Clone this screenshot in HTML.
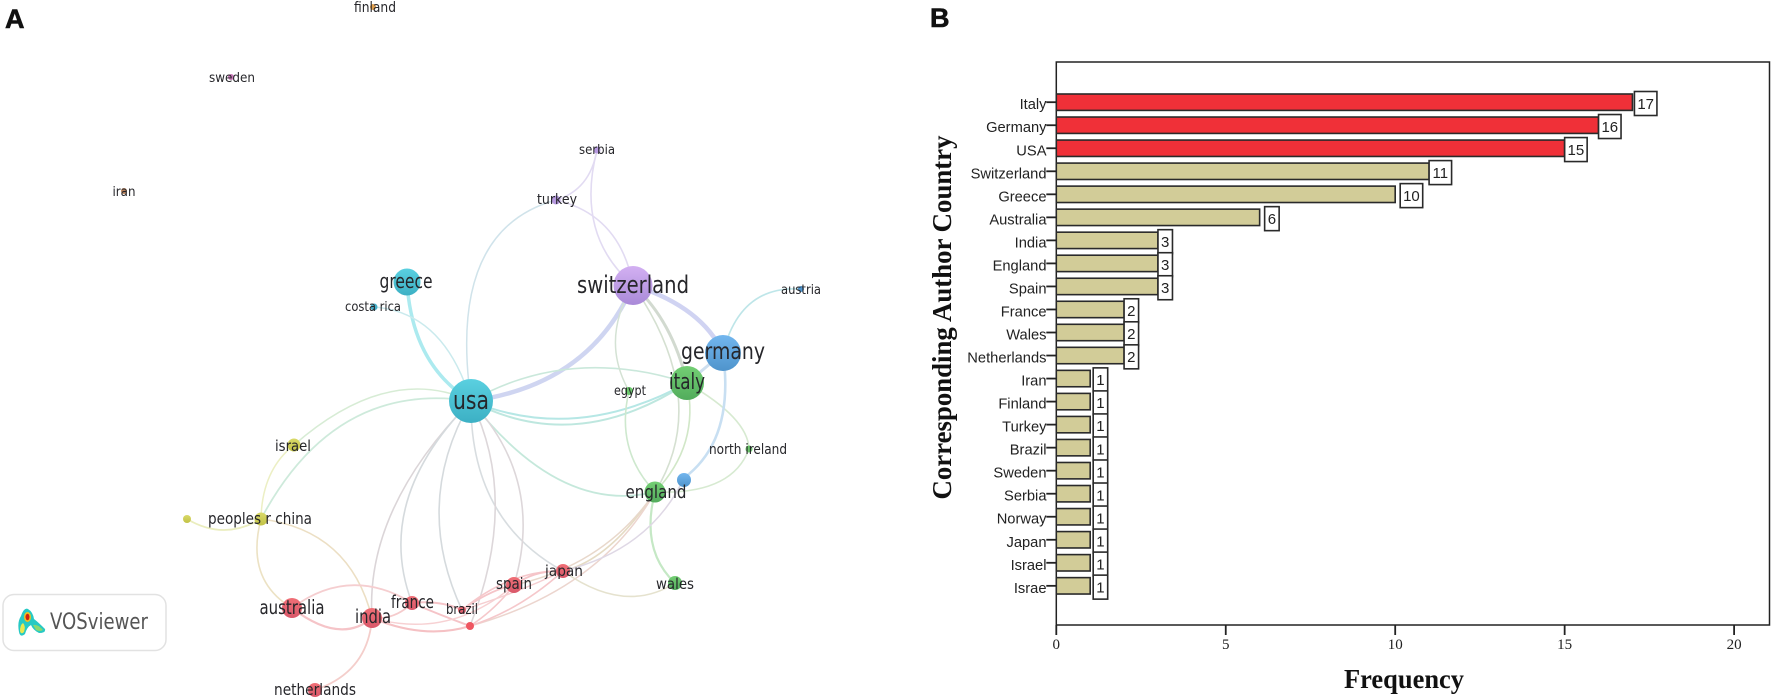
<!DOCTYPE html>
<html lang="en">
<head>
<meta charset="utf-8">
<title>Country collaboration network and corresponding author countries</title>
<style>
html,body{margin:0;padding:0;background:#fff;}
body{width:1772px;height:698px;overflow:hidden;}
svg{display:block;position:absolute;left:0;top:0;}
.net text{font-family:"DejaVu Sans","Liberation Sans",sans-serif;fill:#26262a;text-anchor:middle;}
.edges{opacity:.82;}
.edges path{fill:none;stroke-linecap:round;}
</style>
</head>
<body>
<svg class="net" width="1772" height="698" viewBox="0 0 1772 698">
<defs>
<linearGradient id="gc" x1="0" y1="0" x2="0" y2="1"><stop offset="0" stop-color="#5ad0e0"/><stop offset="1" stop-color="#3cb0c4"/></linearGradient>
<linearGradient id="gp" x1="0" y1="0" x2="0" y2="1"><stop offset="0" stop-color="#d3b0f2"/><stop offset="1" stop-color="#a98ad8"/></linearGradient>
<linearGradient id="gb" x1="0" y1="0" x2="0" y2="1"><stop offset="0" stop-color="#73b6ee"/><stop offset="1" stop-color="#4f94cc"/></linearGradient>
<linearGradient id="gg" x1="0" y1="0" x2="0" y2="1"><stop offset="0" stop-color="#74cf74"/><stop offset="1" stop-color="#52ac5c"/></linearGradient>
<linearGradient id="gr" x1="0" y1="0" x2="0" y2="1"><stop offset="0" stop-color="#f06f76"/><stop offset="1" stop-color="#d9586a"/></linearGradient>
<linearGradient id="gy" x1="0" y1="0" x2="0" y2="1"><stop offset="0" stop-color="#d9d968"/><stop offset="1" stop-color="#c2c246"/></linearGradient>
</defs>

<g class="edges">
<path d="M471 401Q412 365 407 282" stroke="#9be6ec" stroke-width="3.5"/>
<path d="M471 401Q444 312 374 307" stroke="#bfe6ea" stroke-width="1.5"/>
<path d="M471 401Q447 230 556 200" stroke="#c6dde6" stroke-width="1.5"/>
<path d="M471 401Q590 385 633 285" stroke="#c5cdee" stroke-width="4.5"/>
<path d="M471 401Q570 345 687 383" stroke="#bfe3d4" stroke-width="1.6"/>
<path d="M471 401Q575 444 687 383" stroke="#a7e2e0" stroke-width="2"/>
<path d="M471 401Q575 456 687 383" stroke="#b0e2d8" stroke-width="2"/>
<path d="M471 401Q388 363 294 445" stroke="#cfe8cc" stroke-width="1.5"/>
<path d="M471 401Q335 380 261 519" stroke="#c4e6d4" stroke-width="1.8"/>
<path d="M471 401Q560 515 655 492" stroke="#b9e4d4" stroke-width="1.8"/>
<path d="M471 401Q365 509 372 618" stroke="#d4cdd0" stroke-width="1.6"/>
<path d="M471 401Q373 500 412 603" stroke="#ccd2d6" stroke-width="1.6"/>
<path d="M471 401Q412 503 462 610" stroke="#ccd2d6" stroke-width="1.6"/>
<path d="M471 401Q470 520 563 571" stroke="#d0d6da" stroke-width="1.6"/>
<path d="M471 401Q545 480 514 585" stroke="#d6cfd2" stroke-width="1.6"/>
<path d="M471 401Q520 500 470 626" stroke="#d6cfd2" stroke-width="1.6"/>
<path d="M633 285Q702 307 723 353" stroke="#c6caf0" stroke-width="4.5"/>
<path d="M633 285Q672 320 687 383" stroke="#c9d3c6" stroke-width="3"/>
<path d="M633 285Q712 400 655 492" stroke="#ccdac8" stroke-width="1.6"/>
<path d="M633 285Q600 340 629 391" stroke="#cbdccb" stroke-width="1.5"/>
<path d="M633 285Q575 235 597 150" stroke="#dcd4f0" stroke-width="1.6"/>
<path d="M633 285Q620 215 556 200" stroke="#dcd4f0" stroke-width="1.6"/>
<path d="M556 200Q590 190 597 150" stroke="#dcd4f0" stroke-width="1.6"/>
<path d="M629 391Q615 450 655 492" stroke="#c4e4c4" stroke-width="1.6"/>
<path d="M687 383Q700 445 655 492" stroke="#c8e2bc" stroke-width="1.6"/>
<path d="M687 383L723 353" stroke="#c4d8ec" stroke-width="3"/>
<path d="M687 383Q748 418 749 449" stroke="#cfe6c8" stroke-width="1.6"/>
<path d="M749 449Q732 495 655 492" stroke="#cfe6c8" stroke-width="1.6"/>
<path d="M723 353Q735 440 684 478" stroke="#bcd9f0" stroke-width="2.6"/>
<path d="M723 353Q740 285 801 289" stroke="#b0e0e4" stroke-width="1.6"/>
<path d="M655 492Q640 550 675 583" stroke="#b9e4b9" stroke-width="2.2"/>
<path d="M655 492Q610 560 563 571" stroke="#e0d4b8" stroke-width="1.6"/>
<path d="M655 492Q605 565 514 585" stroke="#e4d0c0" stroke-width="1.5"/>
<path d="M655 492Q600 590 470 626" stroke="#e8ccc4" stroke-width="1.5"/>
<path d="M684 478Q650 550 563 571" stroke="#d8d0e0" stroke-width="1.5"/>
<path d="M675 583Q625 615 563 571" stroke="#e0dcc4" stroke-width="1.6"/>
<path d="M294 445Q262 470 261 519" stroke="#e8ecb8" stroke-width="1.5"/>
<path d="M261 519Q224 541 187 519" stroke="#e6eab0" stroke-width="1.8"/>
<path d="M261 519Q245 580 292 608" stroke="#e8dcb8" stroke-width="1.6"/>
<path d="M261 519Q350 530 372 618" stroke="#e8d8b8" stroke-width="1.6"/>
<path d="M292 608Q340 645 372 618" stroke="#f4b8bc" stroke-width="2.2"/>
<path d="M292 608Q350 565 412 603" stroke="#f4c4c6" stroke-width="1.8"/>
<path d="M372 618Q395 620 412 603" stroke="#f4c0c2" stroke-width="1.8"/>
<path d="M412 603Q440 600 462 610" stroke="#f4b8bc" stroke-width="2"/>
<path d="M412 603Q440 615 470 626" stroke="#f4b8bc" stroke-width="2"/>
<path d="M372 618Q425 640 470 626" stroke="#f4b4b8" stroke-width="2.2"/>
<path d="M372 618Q368 672 315 690" stroke="#f2c4c0" stroke-width="1.8"/>
<path d="M462 610Q490 590 514 585" stroke="#f4b8bc" stroke-width="1.8"/>
<path d="M470 626Q495 610 514 585" stroke="#f4bcc0" stroke-width="1.6"/>
<path d="M462 610Q510 570 563 571" stroke="#f4bcc0" stroke-width="1.6"/>
<path d="M470 626Q520 610 563 571" stroke="#f4bcc0" stroke-width="1.6"/>
<path d="M514 585Q535 570 563 571" stroke="#f4b8bc" stroke-width="1.8"/>
<path d="M462 610Q520 592 563 571" stroke="#f4c4c6" stroke-width="1.5"/>
<path d="M372 618Q450 640 514 585" stroke="#f6c8ca" stroke-width="1.5"/>
</g>

<g>
<circle cx="471" cy="401" r="22" fill="url(#gc)"/>
<circle cx="407" cy="282" r="13.5" fill="url(#gc)"/>
<circle cx="374" cy="307" r="3.5" fill="#45aec8"/>
<circle cx="633" cy="285.5" r="19.5" fill="url(#gp)"/>
<circle cx="597" cy="150" r="3.5" fill="#b79ae0"/>
<circle cx="556" cy="200" r="4.5" fill="#b79ae0"/>
<circle cx="723" cy="353" r="18" fill="url(#gb)"/>
<circle cx="801" cy="289" r="3" fill="#4f94cc"/>
<circle cx="684" cy="480" r="7" fill="url(#gb)"/>
<circle cx="687" cy="383" r="17" fill="url(#gg)"/>
<circle cx="655" cy="492" r="10.5" fill="url(#gg)"/>
<circle cx="675" cy="583" r="7" fill="url(#gg)"/>
<circle cx="749" cy="449" r="3.5" fill="#6cc96c"/>
<circle cx="629" cy="391" r="4" fill="#6cc96c"/>
<circle cx="292" cy="608" r="10" fill="url(#gr)"/>
<circle cx="372" cy="618" r="10" fill="url(#gr)"/>
<circle cx="412" cy="603" r="7" fill="url(#gr)"/>
<circle cx="462" cy="610" r="4" fill="url(#gr)"/>
<circle cx="470" cy="626" r="4" fill="#ef5560"/>
<circle cx="514" cy="585" r="8" fill="url(#gr)"/>
<circle cx="563" cy="571" r="7" fill="url(#gr)"/>
<circle cx="315" cy="690" r="7" fill="url(#gr)"/>
<circle cx="294" cy="445" r="6.5" fill="url(#gy)"/>
<circle cx="261" cy="519" r="6.5" fill="url(#gy)"/>
<circle cx="187" cy="519" r="4" fill="url(#gy)"/>
<circle cx="373" cy="7" r="3" fill="#e0a050"/>
<circle cx="231" cy="77" r="3" fill="#c878b8"/>
<circle cx="124" cy="191" r="3" fill="#b8805a"/>
</g>

<g>
<text x="471" y="409" font-size="26" textLength="36" lengthAdjust="spacingAndGlyphs">usa</text>
<text x="633" y="293" font-size="24" textLength="112" lengthAdjust="spacingAndGlyphs">switzerland</text>
<text x="723" y="359" font-size="23" textLength="84" lengthAdjust="spacingAndGlyphs">germany</text>
<text x="687" y="389" font-size="22" textLength="36" lengthAdjust="spacingAndGlyphs">italy</text>
<text x="406" y="288" font-size="20" textLength="53" lengthAdjust="spacingAndGlyphs">greece</text>
<text x="373" y="311" font-size="13.5" textLength="56" lengthAdjust="spacingAndGlyphs">costa rica</text>
<text x="630" y="395" font-size="13" textLength="32" lengthAdjust="spacingAndGlyphs">egypt</text>
<text x="748" y="454" font-size="14" textLength="78" lengthAdjust="spacingAndGlyphs">north ireland</text>
<text x="801" y="294" font-size="13.5" textLength="40" lengthAdjust="spacingAndGlyphs">austria</text>
<text x="656" y="498" font-size="17.5" textLength="61" lengthAdjust="spacingAndGlyphs">england</text>
<text x="675" y="589" font-size="15" textLength="38" lengthAdjust="spacingAndGlyphs">wales</text>
<text x="564" y="576" font-size="15.5" textLength="38" lengthAdjust="spacingAndGlyphs">japan</text>
<text x="514" y="589" font-size="16" textLength="36" lengthAdjust="spacingAndGlyphs">spain</text>
<text x="462" y="614" font-size="14" textLength="32" lengthAdjust="spacingAndGlyphs">brazil</text>
<text x="412.5" y="608" font-size="17.5" textLength="43" lengthAdjust="spacingAndGlyphs">france</text>
<text x="373" y="623" font-size="18.5" textLength="36" lengthAdjust="spacingAndGlyphs">india</text>
<text x="292" y="614" font-size="19.5" textLength="65" lengthAdjust="spacingAndGlyphs">australia</text>
<text x="315" y="695" font-size="16" textLength="82" lengthAdjust="spacingAndGlyphs">netherlands</text>
<text x="260" y="524" font-size="16" textLength="104" lengthAdjust="spacingAndGlyphs">peoples r china</text>
<text x="293" y="451" font-size="15" textLength="36" lengthAdjust="spacingAndGlyphs">israel</text>
<text x="597" y="154" font-size="13.5" textLength="36" lengthAdjust="spacingAndGlyphs">serbia</text>
<text x="557" y="204" font-size="14" textLength="40" lengthAdjust="spacingAndGlyphs">turkey</text>
<text x="375" y="12" font-size="14" textLength="42" lengthAdjust="spacingAndGlyphs">finland</text>
<text x="232" y="82" font-size="13.5" textLength="46" lengthAdjust="spacingAndGlyphs">sweden</text>
<text x="124" y="196" font-size="13" textLength="23" lengthAdjust="spacingAndGlyphs">iran</text>
</g>

<g>
<rect x="3" y="594.5" width="163" height="56" rx="11" fill="#fff" stroke="#e2e2e2" stroke-width="1.5"/>
<g>
<path d="M19 632Q17 622 21 616Q24 607 28 609Q33 612 34 619Q38 622 45 629Q46 633 39 633Q33 630 31 625Q27 627 25 634Q20 638 19 632Z" fill="#27c9c4"/>
<path d="M20 631Q20 625 23 623Q26 626 24 632Q21 635 20 631Z" fill="#e8e850"/>
<path d="M33 625Q38 624 43 630Q40 632 36 630Z" fill="#8ad870"/>
<ellipse cx="27.5" cy="617" rx="3.5" ry="5" fill="#f0c020"/>
<ellipse cx="27.5" cy="617" rx="2" ry="3.2" fill="#d02010"/>
</g>
<text x="99" y="629" font-size="22" textLength="98" lengthAdjust="spacingAndGlyphs" style="fill:#555">VOSviewer</text>
</g>
</svg>

<svg id="bar-chart" width="1772" height="698" viewBox="0 0 1772 698" style="pointer-events:none">
<text x="5" y="28" font-family="Liberation Sans, sans-serif" font-weight="bold" font-size="27" fill="#111" stroke="#111" stroke-width=".6">A</text>
<text x="930" y="27" font-family="Liberation Sans, sans-serif" font-weight="bold" font-size="27" fill="#111" stroke="#111" stroke-width=".6">B</text>
<text transform="translate(951 317.5) rotate(-90)" text-anchor="middle" font-family="Liberation Serif, serif" font-weight="bold" font-size="27" textLength="364" lengthAdjust="spacingAndGlyphs" fill="#111">Corresponding Author Country</text>
<text x="1404" y="688" text-anchor="middle" font-family="Liberation Serif, serif" font-weight="bold" font-size="27" textLength="120" lengthAdjust="spacingAndGlyphs" fill="#111">Frequency</text>
</svg>

<script>
const countries = ["Italy","Germany","USA","Switzerland","Greece","Australia","India","England","Spain","France","Wales","Netherlands","Iran","Finland","Turkey","Brazil","Sweden","Serbia","Norway","Japan","Israel","Israe"];
const frequency = [17,16,15,11,10,6,3,3,3,2,2,2,1,1,1,1,1,1,1,1,1,1];
const highlightCount = 3;
const xTicks = [0,5,10,15,20];

const NS = "http://www.w3.org/2000/svg";
const svg = document.getElementById("bar-chart");
const plot = {left:1056.3, right:1769.5, top:62, bottom:625};
const xScale = v => plot.left + v * 33.89;
const yScale = i => 102.2 + i * 23.03;

function make(tag, attrs, parent, text){
  const el = document.createElementNS(NS, tag);
  for (const k in attrs) el.setAttribute(k, attrs[k]);
  if (text !== undefined) el.textContent = text;
  (parent || svg).appendChild(el);
  return el;
}
function labelGap(v){
  if (v === 10 || v === 6) return 5;
  if (v === 1) return 3;
  if (v === 17) return 2;
  return 0;
}

const frame = make("rect", {x:plot.left, y:plot.top, width:plot.right-plot.left, height:plot.bottom-plot.top, fill:"none", stroke:"#222", "stroke-width":1.5});



xTicks.forEach(t => {
  const tick = make("line", {x1:xScale(t), x2:xScale(t), y1:plot.bottom, y2:plot.bottom+10, stroke:"#222", "stroke-width":1.8});
  
  
  const lab = make("text", {x:xScale(t), y:649, "text-anchor":"middle", "font-family":"Liberation Serif, serif", "font-size":15, fill:"#222"}, svg, t);
  
  
});

countries.forEach((c, i) => {
  const v = frequency[i];
  const cy = yScale(i);
  const bar = make("rect", {x:plot.left, y:cy-8.2, width:xScale(v)-plot.left, height:16.4, fill:i < highlightCount ? "#f03038" : "#d2cc98", stroke:"#2a2a2a", "stroke-width":1.6});
  
  
  const tick = make("line", {x1:plot.left-10, x2:plot.left, y1:cy, y2:cy, stroke:"#222", "stroke-width":1.8});
  
  
  const lab = make("text", {x:1046.5, y:cy+7, "text-anchor":"end", "font-family":"Liberation Sans, sans-serif", "font-size":14.7, fill:"#222"}, svg, c);
  
  
  const w = v >= 10 ? 22.5 : 14.5;
  const bx = xScale(v) + labelGap(v);
  const box = make("rect", {x:bx, y:cy-10.7, width:w, height:24, fill:"#fff", stroke:"#2a2a2a", "stroke-width":1.6});
  
  
  const val = make("text", {x:bx+w/2, y:cy+6.6, "text-anchor":"middle", "font-family":"Liberation Sans, sans-serif", "font-size":15, fill:"#222"}, svg, v);
  
  
});
</script>
</body>
</html>
